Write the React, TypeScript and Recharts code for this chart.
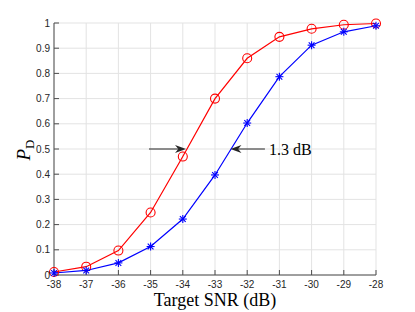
import React from "react";
import {
  LineChart,
  Line,
  XAxis,
  YAxis,
  CartesianGrid,
  ReferenceLine,
} from "recharts";

const snr = [-38, -37, -36, -35, -34, -33, -32, -31, -30, -29, -28];
const pdRed = [0.012, 0.033, 0.097, 0.248, 0.47, 0.70, 0.86, 0.945, 0.977, 0.993, 0.998];
const pdBlue = [0.008, 0.018, 0.048, 0.113, 0.222, 0.397, 0.603, 0.787, 0.912, 0.965, 0.989];
const yTicks = [0, 0.1, 0.2, 0.3, 0.4, 0.5, 0.6, 0.7, 0.8, 0.9, 1];
const gapLabel = "1.3 dB";
const xTitle = "Target SNR (dB)";

const data = snr.map((s, i) => ({ snr: s, red: pdRed[i], blue: pdBlue[i] }));

const AXIS = "#4d4d4d";
const TICK_FONT = { fontFamily: "Liberation Sans, Arial, sans-serif", fontSize: 10, fill: "#262626" };
const SERIF = "Liberation Serif, Times New Roman, serif";

function Circle(props: any) {
  const { cx, cy } = props;
  if (cx == null || cy == null) return null;
  return <circle cx={cx} cy={cy} r={4.5} fill="none" stroke="#ff0000" strokeWidth={1.1} />;
}

function Asterisk(props: any) {
  const { cx, cy } = props;
  if (cx == null || cy == null) return null;
  const r = 4;
  const d = r * 0.72;
  return (
    <g stroke="#0000ff" strokeWidth={1.1}>
      <line x1={cx - r} y1={cy} x2={cx + r} y2={cy} />
      <line x1={cx} y1={cy - r} x2={cx} y2={cy + r} />
      <line x1={cx - d} y1={cy - d} x2={cx + d} y2={cy + d} />
      <line x1={cx - d} y1={cy + d} x2={cx + d} y2={cy - d} />
    </g>
  );
}

// arrow drawn from (x1,y1) to head at (x2,y2)
function arrow(text?: string) {
  return (p: any) => {
    const { x1, y1, x2, y2 } = p;
    if (x1 == null) return null;
    const ang = Math.atan2(y2 - y1, x2 - x1);
    const L = 11;
    const W = 4;
    const bx = x2 - L * Math.cos(ang);
    const by = y2 - L * Math.sin(ang);
    const mx = x2 - L * 0.7 * Math.cos(ang);
    const my = y2 - L * 0.7 * Math.sin(ang);
    const px = -Math.sin(ang) * W;
    const py = Math.cos(ang) * W;
    return (
      <g>
        <line x1={x1} y1={y1} x2={mx} y2={my} stroke="#262626" strokeWidth={1} />
        <polygon
          points={`${x2},${y2} ${bx + px},${by + py} ${mx},${my} ${bx - px},${by - py}`}
          fill="#262626"
        />
        {text && (
          <text x={x1 + 4} y={y1 + 5.5} fontFamily={SERIF} fontSize={16} fill="#000">
            {text}
          </text>
        )}
      </g>
    );
  };
}

function YLabel() {
  return (
    <text
      transform="translate(30,150) rotate(-90)"
      textAnchor="middle"
      fontFamily={SERIF}
      fontSize={19}
      fill="#000"
    >
      <tspan fontStyle="italic">P</tspan>
      <tspan fontSize={13} dy={4}>D</tspan>
    </text>
  );
}

function XLabel(props: any) {
  const vb = props.viewBox || { x: 54, y: 275, width: 322 };
  return (
    <text
      x={vb.x + vb.width / 2}
      y={vb.y + 31}
      textAnchor="middle"
      fontFamily={SERIF}
      fontSize={18}
      fill="#000"
    >
      {xTitle}
    </text>
  );
}

export default function App() {
  return (
    <div style={{ position: "absolute", left: 0, top: 0, background: "#fff" }}>
      <LineChart
        width={415}
        height={312}
        data={data}
        margin={{ top: 23, right: 39, bottom: 0, left: 24 }}
      >
        <CartesianGrid stroke="#e3e3e3" />
        <XAxis
          dataKey="snr"
          type="number"
          domain={[-38, -28]}
          ticks={snr}
          height={37}
          stroke={AXIS}
          tickSize={-5}
          tickMargin={11}
          tick={TICK_FONT}
          label={<XLabel />}
        />
        <XAxis
          xAxisId="top"
          orientation="top"
          dataKey="snr"
          type="number"
          domain={[-38, -28]}
          ticks={snr}
          height={0}
          stroke={AXIS}
          tickSize={-5}
          tickFormatter={() => ""}
        />
        <YAxis
          type="number"
          domain={[0, 1]}
          ticks={yTicks}
          width={30}
          stroke={AXIS}
          tickSize={-5}
          tickMargin={9}
          tick={TICK_FONT}
          label={<YLabel />}
        />
        <YAxis
          yAxisId="right"
          orientation="right"
          type="number"
          domain={[0, 1]}
          ticks={yTicks}
          width={0}
          stroke={AXIS}
          tickSize={-5}
          tickFormatter={() => ""}
        />
        <Line
          type="linear"
          dataKey="red"
          stroke="#ff0000"
          strokeWidth={1.2}
          dot={<Circle />}
          isAnimationActive={false}
        />
        <Line
          type="linear"
          dataKey="blue"
          stroke="#0000ff"
          strokeWidth={1.2}
          dot={<Asterisk />}
          isAnimationActive={false}
        />
        <ReferenceLine
          segment={[{ x: -35.05, y: 0.5 }, { x: -33.9, y: 0.5 }]}
          shape={arrow()}
        />
        <ReferenceLine
          segment={[{ x: -31.45, y: 0.5 }, { x: -32.52, y: 0.5 }]}
          shape={arrow(gapLabel)}
        />
      </LineChart>
    </div>
  );
}
